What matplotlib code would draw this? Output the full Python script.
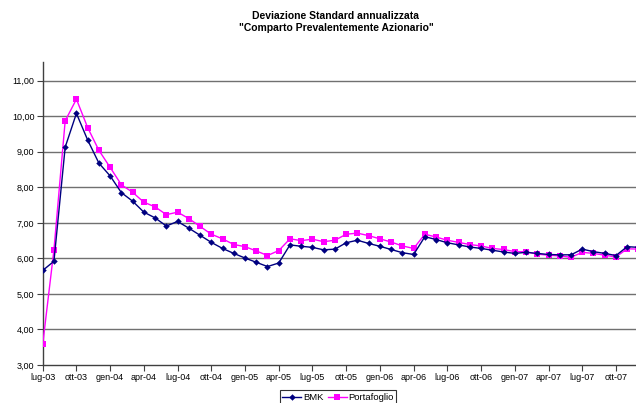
import matplotlib
matplotlib.use("Agg")
import matplotlib.pyplot as plt
from matplotlib.ticker import FixedLocator, FuncFormatter

plt.rcParams['font.family'] = ['Liberation Sans', 'DejaVu Sans']

# Monthly observations, lug-03 .. dic-07
months = [
    "lug-03", "ago-03", "set-03", "ott-03", "nov-03", "dic-03",
    "gen-04", "feb-04", "mar-04", "apr-04", "mag-04", "giu-04",
    "lug-04", "ago-04", "set-04", "ott-04", "nov-04", "dic-04",
    "gen-05", "feb-05", "mar-05", "apr-05", "mag-05", "giu-05",
    "lug-05", "ago-05", "set-05", "ott-05", "nov-05", "dic-05",
    "gen-06", "feb-06", "mar-06", "apr-06", "mag-06", "giu-06",
    "lug-06", "ago-06", "set-06", "ott-06", "nov-06", "dic-06",
    "gen-07", "feb-07", "mar-07", "apr-07", "mag-07", "giu-07",
    "lug-07", "ago-07", "set-07", "ott-07", "nov-07", "dic-07",
]

bmk = [
    5.66, 5.92, 9.13, 10.08, 9.33, 8.68, 8.32, 7.85, 7.61, 7.30, 7.14, 6.91,
    7.04, 6.85, 6.65, 6.45, 6.28, 6.14, 6.01, 5.89, 5.77, 5.87, 6.38, 6.34,
    6.31, 6.24, 6.26, 6.44, 6.51, 6.42, 6.34, 6.25, 6.16, 6.11, 6.61, 6.53,
    6.44, 6.38, 6.32, 6.28, 6.23, 6.18, 6.14, 6.17, 6.14, 6.11, 6.10, 6.10,
    6.26, 6.19, 6.14, 6.08, 6.33, 6.31,
]

portafoglio = [
    3.58, 6.24, 9.87, 10.48, 9.68, 9.04, 8.56, 8.07, 7.86, 7.58, 7.45, 7.23,
    7.30, 7.12, 6.90, 6.68, 6.55, 6.39, 6.33, 6.21, 6.08, 6.22, 6.55, 6.50,
    6.54, 6.47, 6.51, 6.68, 6.71, 6.64, 6.55, 6.46, 6.35, 6.28, 6.68, 6.60,
    6.51, 6.45, 6.39, 6.35, 6.28, 6.25, 6.19, 6.19, 6.12, 6.09, 6.07, 6.03,
    6.17, 6.14, 6.09, 6.04, 6.27, 6.26,
]

y_ticks = [3, 4, 5, 6, 7, 8, 9, 10, 11]

W, H = 636, 403
fig = plt.figure(figsize=(W / 100, H / 100), dpi=100)
fig.patch.set_facecolor("white")

left, right, bottom, top = 42.7, 636, 38, 341
ax = fig.add_axes([left / W, bottom / H, (right - left) / W, (top - bottom) / H])

x = list(range(len(months)))
ax.plot(x, bmk, color="#000080", lw=1.0, marker="D", ms=3.3,
        markeredgewidth=0, label="BMK", zorder=4)
ax.plot(x, portafoglio, color="#FF00FF", lw=1.0, marker="s", ms=4.5,
        markeredgewidth=0, label="Portafoglio", zorder=3)

ax.set_xlim(0, (right - left) / 11.24)
ax.set_ylim(3, 3 + (top - bottom) / 35.54)

ax.yaxis.set_major_locator(FixedLocator(y_ticks))
ax.yaxis.set_major_formatter(FuncFormatter(lambda v, p: f"{v:.2f}".replace(".", ",")))
ax.xaxis.set_major_locator(FixedLocator(x[::3]))
ax.set_xticklabels(months[::3])

ax.tick_params(axis="both", labelsize=6.5, colors="black", length=4,
               width=0.8, direction="out", pad=2)
ax.tick_params(axis="both", color="#404040")

for yv in y_ticks[1:]:
    ax.axhline(yv, color="#707070", lw=1.0, zorder=1)

for s in ("top", "right"):
    ax.spines[s].set_visible(False)
for s in ("left", "bottom"):
    ax.spines[s].set_color("#404040")
    ax.spines[s].set_linewidth(1.0)

fig.text(336 / W, 1 - 16 / H, "Deviazione Standard annualizzata",
         ha="center", va="center", fontsize=7.5, fontweight="bold")
fig.text(336 / W, 1 - 28 / H, "\"Comparto Prevalentemente Azionario\"",
         ha="center", va="center", fontsize=7.5, fontweight="bold")

leg = fig.legend(loc="upper center", bbox_to_anchor=(338 / W, 1 - 390 / H),
                 ncol=2, fontsize=6.8, frameon=True, fancybox=False,
                 edgecolor="black", borderpad=0.3, handlelength=2.0,
                 columnspacing=0.5, handletextpad=0.15, borderaxespad=0)
leg.get_frame().set_linewidth(0.8)

fig.savefig("out.png", dpi=100, facecolor="white")
